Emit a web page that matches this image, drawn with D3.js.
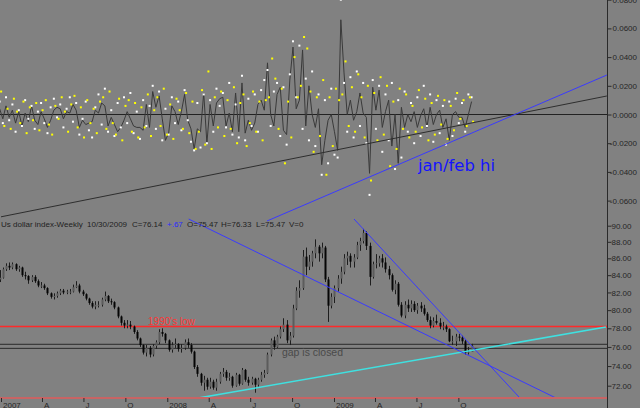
<!DOCTYPE html>
<html><head><meta charset="utf-8">
<script src="https://cdn.jsdelivr.net/npm/d3@7/dist/d3.min.js"></script>
<style>html,body{margin:0;padding:0;background:#818181;overflow:hidden}svg{display:block}</style>
</head><body><svg id="c" width="640" height="408"></svg>
<script>
// ---------- data ----------
const firstWeek = "2006-12-29"; // weekly bars (Fridays)
const open = [83.5,
83.7,84.7,85.1,84.9,85.3,84.7,84.9,84.0,83.9,83.4,
83.8,83.3,82.8,82.8,82.5,81.9,81.5,81.6,81.9,82.2,
82.0,82.1,82.1,82.6,82.8,82.1,81.8,81.3,80.8,80.4,
80.6,80.6,81.2,81.6,81.0,80.9,80.3,79.3,78.6,78.3,
78.4,78.2,77.6,76.9,76.2,75.4,75.9,75.2,76.1,76.5,
77.6,77.4,76.7,75.7,76.2,76.3,75.8,75.9,76.5,76.2,
75.5,73.9,73.2,72.3,72.6,71.9,72.4,71.8,72.4,73.2,
73.4,72.8,72.9,72.0,73.1,72.2,73.6,72.6,72.3,72.7,
72.1,72.6,73.1,73.3,75.2,76.7,76.0,77.1,77.9,78.4,
76.7,77.2,80.2,82.2,82.5,86.2,85.0,85.6,86.6,87.4,
86.6,87.3,83.5,80.5,81.5,82.5,83.6,84.4,86.0,86.3,
85.6,86.1,87.6,88.1,89.1,87.5,83.8,85.3,85.4,86.0,
85.5,84.7,84.0,82.3,83.0,80.6,79.4,80.6,80.2,80.7,
80.0,80.5,80.2,79.6,78.9,78.3,78.8,78.6,78.2,78.2,
77.9,76.6,76.6,77.1,77.0,76.6,75.4,75.47];
const high = [84.6,
84.9,85.4,85.5,85.5,85.4,85.1,85.0,84.4,84.0,84.0,
84.0,83.5,83.2,83.0,82.6,82.0,81.9,82.1,82.4,82.4,
82.3,82.4,82.9,83.3,83.0,82.3,81.9,81.4,81.0,81.0,
81.0,81.4,82.1,81.7,81.3,81.0,80.4,79.4,78.9,78.9,
78.8,78.3,77.8,77.0,76.3,76.2,76.1,76.3,76.7,77.9,
78.0,77.5,76.8,76.5,76.9,76.4,76.3,76.8,76.9,76.4,
75.6,74.1,73.3,73.0,72.8,72.8,72.6,72.7,73.4,73.8,
73.6,73.3,73.0,73.3,73.2,73.8,73.7,72.9,72.9,72.8,
72.8,73.4,73.6,75.4,76.9,77.1,77.3,78.2,79.1,78.9,
77.6,80.6,82.6,83.4,87.0,87.3,86.4,86.9,88.3,87.6,
87.9,87.5,83.8,81.9,82.8,84.0,85.0,86.5,86.8,86.6,
86.5,88.0,88.5,89.6,89.3,87.9,85.6,86.5,86.3,86.5,
86.1,85.1,84.2,83.4,83.2,80.9,81.0,81.2,81.1,81.0,
80.8,80.9,80.6,79.8,79.3,79.2,79.5,79.1,78.7,78.4,
78.0,77.2,77.4,77.4,77.2,76.8,76.0,76.33];
const low = [83.2,
83.6,84.5,84.6,84.7,84.5,84.4,83.8,83.5,83.0,83.2,
83.1,82.6,82.5,82.3,81.7,81.3,81.2,81.4,81.7,81.8,
81.8,81.8,82.0,82.5,81.9,81.6,81.1,80.6,80.2,80.1,
80.3,80.4,81.0,80.8,80.6,80.1,79.1,78.3,78.0,78.0,
77.9,77.4,76.7,76.0,75.2,75.0,74.9,75.0,75.8,76.3,
77.1,76.4,75.5,75.4,75.9,75.5,75.4,75.7,75.9,75.3,
73.7,72.9,72.0,71.5,71.6,71.7,71.6,71.5,72.2,72.9,
72.5,72.5,71.8,71.9,72.0,72.1,72.4,72.0,72.1,71.3,
71.9,72.4,72.8,73.2,75.0,75.7,75.9,76.9,77.6,76.4,
76.2,77.0,80.0,81.4,82.3,84.0,84.6,85.0,86.0,85.6,
86.0,83.2,78.7,80.2,80.8,82.1,83.0,84.1,85.2,84.9,
84.9,85.9,86.9,87.8,87.0,82.8,83.6,84.8,85.0,84.9,
84.3,83.5,82.1,81.8,80.4,79.2,79.1,79.8,79.8,79.8,
79.6,79.8,79.4,78.7,78.0,78.1,78.4,77.9,77.8,77.6,
76.5,76.2,76.1,76.6,76.3,75.2,75.2,75.47];
const close = [83.7,
84.7,85.1,84.9,85.3,84.7,84.9,84.0,83.9,83.4,83.8,
83.3,82.8,82.8,82.5,81.9,81.5,81.6,81.9,82.2,82.0,
82.1,82.1,82.6,82.8,82.1,81.8,81.3,80.8,80.4,80.6,
80.6,81.2,81.6,81.0,80.9,80.3,79.3,78.6,78.3,78.4,
78.2,77.6,76.9,76.2,75.4,75.9,75.2,76.1,76.5,77.6,
77.4,76.7,75.7,76.2,76.3,75.8,75.9,76.5,76.2,75.5,
73.9,73.2,72.3,72.6,71.9,72.4,71.8,72.4,73.2,73.4,
72.8,72.9,72.0,73.1,72.2,73.6,72.6,72.3,72.7,72.1,
72.6,73.1,73.3,75.2,76.7,76.0,77.1,77.9,78.4,76.7,
77.2,80.2,82.2,82.5,86.2,85.0,85.6,86.6,87.4,86.6,
87.3,83.5,80.5,81.5,82.5,83.6,84.4,86.0,86.3,85.6,
86.1,87.6,88.1,89.1,87.5,83.8,85.3,85.4,86.0,85.5,
84.7,84.0,82.3,83.0,80.6,79.4,80.6,80.2,80.7,80.0,
80.5,80.2,79.6,78.9,78.3,78.8,78.6,78.2,78.2,77.9,
76.6,76.6,77.1,77.0,76.6,75.4,75.5,76.14];

// oscillator (thousandths)
const oscLine = [4,-3,6,-2,3,-6,2,-8,1,-5,
6,-4,-7,2,-3,-9,-4,3,5,4,
-3,2,1,7,3,-9,-4,-7,-6,-5,
3,1,8,6,-8,-2,-7,-12,-9,-4,
2,-3,-8,-9,-9,-11,7,-9,16,5,
13,-3,-18,-13,6,2,-7,2,14,-4,
-10,-24,-10,-12,15,-20,7,-8,8,11,
12,-8,1,-12,15,-12,22,-13,-4,-11,
-6,7,10,3,36,0,-8,14,19,-11,
-14,24,47,4,10,45,-8,20,0,-9,
4,-35,-18,-4,0,-12,-25,66,29,0,
10,-4,2,15,1,-2,-41,19,3,17,
-9,2,10,-22,0,-34,5,-9,0,-5,
2,-9,-1,4,-9,5,-7,0,3,-9,
-3,-18,0,2,-2,-2,-9,0,9];
const oscWhite = [9,-6,12,-4,7,-12,3,-8,10,-3,
6,-10,2,8,-6,-13,5,11,-2,7,
-9,4,12,-5,8,-14,-3,9,-11,-16,
5,14,-7,18,-12,3,-15,8,-9,12,
-6,15,-13,2,-17,10,-8,6,20,-10,
16,-18,4,-14,12,-6,9,-11,17,-4,
-19,-25,8,-23,14,-20,10,-12,18,6,
15,-9,22,-14,7,-16,27,-18,11,-8,
14,-12,17,24,31,-8,16,22,-15,19,
-21,28,51,12,48,-10,25,-18,30,-22,
14,-42,10,-34,18,-28,-30,80,22,-12,
26,-16,30,-8,22,-20,-56,24,-10,20,
-26,14,-18,22,-38,10,-30,16,-12,8,
-20,12,-15,20,-8,14,-19,10,-13,6,
-21,9,-15,11,-6,8,-12,14,12];
const oscYellow = [16,-8,4,-10,11,2,-6,9,-13,5,
-4,8,-11,3,10,-7,-14,6,-3,12,
2,-12,7,13,-9,5,-16,10,-6,4,
-13,9,12,-10,16,-6,-14,11,-18,6,
10,-12,8,-16,5,-9,14,-15,3,12,
-8,18,-14,7,-17,11,3,-10,15,-13,
9,-24,-12,17,-21,30,-24,12,-9,16,
-15,10,-10,19,-20,8,14,-22,-6,16,
-12,9,-18,10,12,39,25,-10,18,-34,
9,-16,40,12,20,54,46,16,-26,12,
-15,24,-42,12,-22,18,10,14,37,-8,
19,-12,28,12,-16,20,-46,15,-18,26,
-14,20,-36,9,-24,18,-10,14,-16,6,
-12,17,-9,11,-18,8,-14,13,-7,10,
-17,6,-11,15,-3,10,-8,12,-5];

const oscTicks = [80,60,40,20,0,-20,-40,-60];
const priceTicks = [90,88,86,84,82,80,78,76,74,72];
const timeTicks = ["2007-01-01","2007-04-01","2007-07-01","2007-10-01","2008-01-01","2008-04-01","2008-07-01","2008-10-01","2009-01-01","2009-04-01","2009-07-01","2009-10-01"];
const timeTickLabels = ["2007","A","J","O","2008","A","J","O","2009","A","J","O"];

const lowLevel = 78.19;           // 1990's low
const gapLevels = [76.28, 75.85];  // gap lines
const oscTrendBlack = [["2007-01-01",-71.3],["2010-08-23",12.9]];
const oscTrendBlue  = [["2008-08-07",-74.2],["2010-08-23",27.5]];
const priceTrendBlue1 = [["2008-02-17",90.84],["2010-05-03",70.78]];
const priceTrendBlue2 = [["2009-02-14",90.84],["2010-02-13",70.78]];
const priceTrendCyan  = [["2008-02-26",70.68],["2010-08-21",78.14]];

// ---------- scales ----------
const parse = d3.timeParse("%Y-%m-%d");
const W = 640, H = 408, axisX = 607, baseY = 398;
const dates = close.map((c, i) => d3.timeDay.offset(parse(firstWeek), 7 * i));
const x = d3.scaleTime().domain([parse("2007-01-01"), parse("2009-01-01")]).range([1, 334]);
const yOsc = d3.scaleLinear().domain([-60, 60]).range([200.6, 28.4]);
const yP = d3.scaleLog().domain([72, 90]).range([385.7, 225.7]);

const svg = d3.select("#c");
svg.append("rect").attr("width", W).attr("height", H).attr("fill", "#818181");
const defs = svg.append("defs");
defs.append("clipPath").attr("id", "plot").append("rect").attr("x", 0).attr("y", 0).attr("width", axisX).attr("height", baseY);
defs.append("clipPath").attr("id", "top").append("rect").attr("x", 0).attr("y", 0).attr("width", axisX).attr("height", 214);
defs.append("clipPath").attr("id", "bot").append("rect").attr("x", 0).attr("y", 216).attr("width", axisX).attr("height", baseY - 216);

const ln = d3.line();
function seg(g, pts, ys, color, w) {
  g.append("path").attr("d", ln(pts.map(p => [x(parse(p[0])), ys(p[1])])))
    .attr("fill", "none").attr("stroke", color).attr("stroke-width", w);
}

// ---------- top pane ----------
const gt = svg.append("g").attr("clip-path", "url(#top)");
gt.append("line").attr("x1", 0).attr("x2", axisX).attr("y1", yOsc(0)).attr("y2", yOsc(0)).attr("stroke", "#222").attr("stroke-width", 1);
const gtl = svg.append("g").attr("clip-path", "url(#plot)");
seg(gtl, oscTrendBlack, yOsc, "#2e2e2e", 1);
seg(gtl, oscTrendBlue, yOsc, "#3a3aff", 1);
gt.append("path").attr("d", d3.line().x((d, i) => x(dates[i])).y(d => yOsc(d))(oscLine))
  .attr("fill", "none").attr("stroke", "#3a3a3a").attr("stroke-width", 1);
gt.selectAll(".wd").data(oscWhite).enter().append("rect")
  .attr("x", (d, i) => x(dates[i]) - 1).attr("y", d => yOsc(d) - 1).attr("width", 2).attr("height", 2).attr("fill", "#ffffff");
gt.selectAll(".yd").data(oscYellow).enter().append("rect")
  .attr("x", (d, i) => x(dates[i]) + 0.5).attr("y", d => yOsc(d) - 1).attr("width", 2).attr("height", 2).attr("fill", "#ffff00");

svg.append("text").attr("x", 418).attr("y", 170.5).attr("font-family", "DejaVu Sans, sans-serif")
  .attr("font-size", 16).attr("fill", "#1414ff").attr("textLength", 77).attr("lengthAdjust", "spacingAndGlyphs").text("jan/feb hi");

// ---------- bottom pane ----------
const gb = svg.append("g").attr("clip-path", "url(#bot)");
gb.append("line").attr("x1", 0).attr("x2", axisX).attr("y1", yP(lowLevel)).attr("y2", yP(lowLevel)).attr("stroke", "#ff2a2a").attr("stroke-width", 1.4);
gapLevels.forEach(v => gb.append("line").attr("x1", 0).attr("x2", axisX).attr("y1", yP(v)).attr("y2", yP(v)).attr("stroke", "#2a2a2a").attr("stroke-width", 1));

const candles = gb.append("g");
close.forEach((c, i) => {
  const cx = Math.round(x(dates[i])) + 0.5;
  const up = c >= open[i];
  candles.append("line").attr("x1", cx).attr("x2", cx).attr("y1", yP(high[i])).attr("y2", yP(low[i])).attr("stroke", "#1e1e1e").attr("stroke-width", 1);
  const y1 = yP(Math.max(open[i], c)), y2 = yP(Math.min(open[i], c));
  candles.append("rect").attr("x", cx - 1).attr("y", y1).attr("width", 2).attr("height", Math.max(1, y2 - y1))
    .attr("fill", up ? "#5c5c5c" : "#050505");
});

const gbl = svg.append("g").attr("clip-path", "url(#plot)");
seg(gbl, priceTrendCyan, yP, "#3fe0e0", 1.6);
seg(gbl, priceTrendBlue1, yP, "#3a3aff", 1);
seg(gbl, priceTrendBlue2, yP, "#3a3aff", 1);

svg.append("text").attr("x", 148).attr("y", 324.5).attr("font-family", "Liberation Sans, Arial, sans-serif")
  .attr("font-size", 10.5).attr("fill", "#ff3535").attr("textLength", 47).attr("lengthAdjust", "spacingAndGlyphs").text("1990's low");
svg.append("text").attr("x", 282).attr("y", 355.5).attr("font-family", "Liberation Sans, Arial, sans-serif")
  .attr("font-size", 11).attr("fill", "#4a4a4a").attr("textLength", 61).attr("lengthAdjust", "spacingAndGlyphs").text("gap is closed");

// legend
const legend = [
  ["Us dollar index-Weekly", 1, "#222"], ["10/30/2009", 87, "#222"], ["C=76.14", 132, "#222"],
  ["+.67", 167, "#2a2aff"], ["O=75.47", 187, "#222"], ["H=76.33", 221, "#222"], ["L=75.47", 256, "#222"], ["V=0", 289, "#222"]];
svg.append("g").selectAll("text").data(legend).enter().append("text")
  .attr("x", d => d[1]).attr("y", 227).attr("font-family", "Liberation Sans, Arial, sans-serif")
  .attr("font-size", 8).attr("fill", d => d[2]).text(d => d[0]);

// ---------- axes ----------
svg.append("line").attr("x1", axisX + 0.5).attr("x2", axisX + 0.5).attr("y1", 0).attr("y2", H).attr("stroke", "#2a2a2a");
svg.append("line").attr("x1", 0).attr("x2", axisX).attr("y1", baseY).attr("y2", baseY).attr("stroke", "#c86464").attr("stroke-width", 2);

function styleAxis(g, endX) {
  g.select(".domain").remove();
  g.selectAll("line").attr("stroke", "#2a2a2a");
  g.selectAll("text").attr("fill", "#262626").attr("font-family", "Liberation Sans, Arial, sans-serif").attr("font-size", 8);
  if (endX !== undefined) g.selectAll("text").attr("text-anchor", "end").attr("x", endX);
}
svg.append("g").attr("transform", `translate(${axisX + 0.5},0)`)
  .call(d3.axisRight(yOsc).tickValues(oscTicks).tickSize(4).tickPadding(2).tickFormat(d => (d / 1000).toFixed(4)))
  .call(g => styleAxis(g, 29.5));
svg.append("g").attr("transform", `translate(${axisX + 0.5},0)`)
  .call(d3.axisRight(yP).tickValues(priceTicks).tickSize(4).tickPadding(2).tickFormat(d => d.toFixed(2)))
  .call(g => styleAxis(g, 24));
const xa = svg.append("g").attr("transform", `translate(0,${baseY})`)
  .call(d3.axisBottom(x).tickValues(timeTicks.map(parse)).tickSize(4).tickFormat((d, i) => timeTickLabels[i]))
  .call(g => styleAxis(g));
xa.selectAll("text").attr("text-anchor", "start").attr("x", 1.5).attr("y", 9.5).attr("dy", 0);
</script></body></html>
